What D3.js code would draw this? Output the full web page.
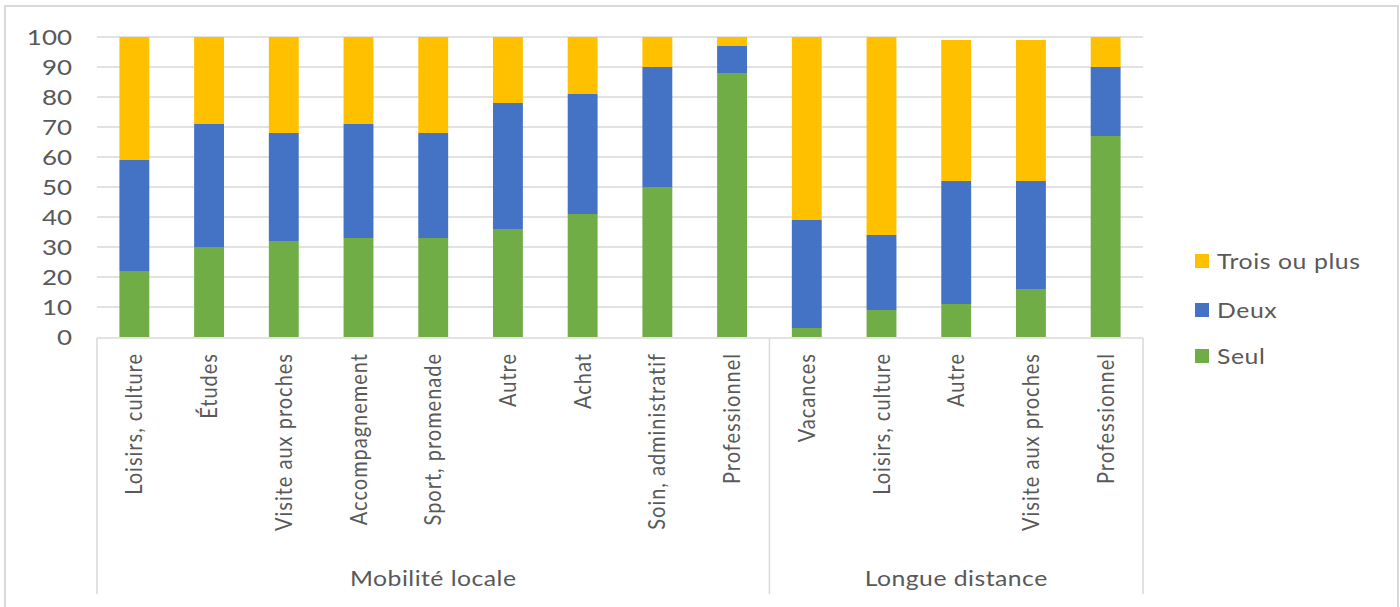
<!DOCTYPE html>
<html>
<head>
<meta charset="utf-8">
<script src="https://cdn.jsdelivr.net/npm/d3@7"></script>
<style>
  html, body { margin: 0; padding: 0; background: #fff; }
  svg text { font-family: Lato, "Open Sans", sans-serif; fill: #595959; }
</style>
</head>
<body>
<svg id="chart" width="1400" height="607"></svg>
<script>
// ---- Data ----
const categories = [
  "Loisirs, culture", "Études", "Visite aux proches", "Accompagnement",
  "Sport, promenade", "Autre", "Achat", "Soin, administratif", "Professionnel",
  "Vacances", "Loisirs, culture", "Autre", "Visite aux proches", "Professionnel"
];
const groups = ["Mobilité locale", "Longue distance"];
const groupSizes = [9, 5];
const seul  = [22, 30, 32, 33, 33, 36, 41, 50, 88,  3,  9, 11, 16, 67];
const deux  = [37, 41, 36, 38, 35, 42, 40, 40,  9, 36, 25, 41, 36, 23];
const trois = [41, 29, 32, 29, 32, 22, 19, 10,  3, 61, 66, 47, 47, 10];
const seriesNames = ["Seul", "Deux", "Trois ou plus"];
const seriesColors = ["#70AD47", "#4472C4", "#FFC000"];
const yTicks = [0, 10, 20, 30, 40, 50, 60, 70, 80, 90, 100];

// ---- Layout ----
const svg = d3.select("#chart");
const plotLeft = 97, plotRight = 1143, plotTop = 37, plotBottom = 337;
const gridColor = "#d9d9d9";
const stretch = 1.18; // horizontal text stretch seen in the reference

// outer border
svg.append("path")
  .attr("d", "M5,607 L5,6 L1398,6 L1398,607")
  .attr("fill", "none").attr("stroke", "#d9d9d9").attr("stroke-width", 2);

const idx = categories.map((_, i) => i);
const x = d3.scaleBand().domain(idx).range([plotLeft, plotRight]).paddingInner(0.6).paddingOuter(0.3);
const y = d3.scaleLinear().domain([0, 100]).range([plotBottom, plotTop]);

// gridlines
svg.append("g").selectAll("line").data(yTicks.filter(t => t > 0)).join("line")
  .attr("x1", plotLeft).attr("x2", plotRight)
  .attr("y1", d => y(d)).attr("y2", d => y(d))
  .attr("stroke", gridColor).attr("stroke-width", 1.5);

// y axis labels
const yAxis = d3.axisLeft(y).tickValues(yTicks).tickSize(0).tickPadding(0);
const yg = svg.append("g").attr("transform", `translate(72,0)`).call(yAxis);
yg.select(".domain").remove();
yg.selectAll(".tick text").attr("x", 0).attr("dy", "0.36em")
  .attr("transform", `scale(${stretch},1)`)
  .style("font-size", "22px").attr("fill", "#595959");

// stacked bars
const table = idx.map(i => ({ i, Seul: seul[i], Deux: deux[i], "Trois ou plus": trois[i] }));
const stack = d3.stack().keys(seriesNames)(table);
svg.append("g").selectAll("g").data(stack).join("g")
  .attr("fill", (d, k) => seriesColors[k])
  .selectAll("rect").data(d => d).join("rect")
  .attr("x", d => x(d.data.i))
  .attr("width", x.bandwidth())
  .attr("y", d => y(d[1]))
  .attr("height", d => y(d[0]) - y(d[1]));

// x axis line
svg.append("line").attr("x1", plotLeft).attr("x2", plotRight)
  .attr("y1", plotBottom + 1).attr("y2", plotBottom + 1)
  .attr("stroke", gridColor).attr("stroke-width", 1.5);

// group separators
const sepX = [plotLeft];
let acc = 0;
groupSizes.forEach(n => { acc += n; sepX.push(plotLeft + acc * (plotRight - plotLeft) / categories.length); });
svg.append("g").selectAll("line").data(sepX).join("line")
  .attr("x1", d => d).attr("x2", d => d)
  .attr("y1", plotBottom + 1).attr("y2", 594)
  .attr("stroke", gridColor).attr("stroke-width", 1.5);

// category labels (rotated)
svg.append("g").selectAll("text").data(idx).join("text")
  .attr("transform", i => `translate(${x(i) + x.bandwidth() / 2 + 8},353) rotate(-90) scale(1,${stretch})`)
  .attr("text-anchor", "end")
  .style("font-size", "20px").style("letter-spacing", "1px")
  .text(i => categories[i]);

// group labels
svg.append("g").selectAll("text").data(groups).join("text")
  .attr("transform", (d, k) => `translate(${(sepX[k] + sepX[k + 1]) / 2},586) scale(${stretch},1)`)
  .attr("text-anchor", "middle")
  .style("font-size", "21px").style("letter-spacing", "0.4px")
  .text(d => d);

// legend
const legendItems = [
  { name: "Trois ou plus", color: seriesColors[2], y: 261 },
  { name: "Deux", color: seriesColors[1], y: 310 },
  { name: "Seul", color: seriesColors[0], y: 356 }
];
const lg = svg.append("g");
lg.selectAll("rect").data(legendItems).join("rect")
  .attr("x", 1195).attr("y", d => d.y - 7).attr("width", 14).attr("height", 14)
  .attr("fill", d => d.color);
lg.selectAll("text").data(legendItems).join("text")
  .attr("transform", d => `translate(1217,${d.y}) scale(${stretch},1)`)
  .attr("dy", "0.36em")
  .style("font-size", "21px").style("letter-spacing", "0.5px")
  .text(d => d.name);
</script>
</body>
</html>
